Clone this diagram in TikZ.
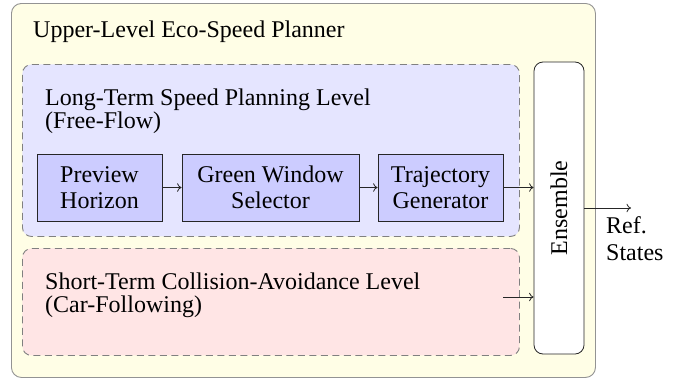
\documentclass[tikz,border=0pt]{standalone}
\usepackage{fontspec}
\setmainfont{Liberation Serif}
\newfontfamily\diagramfont{Liberation Serif}
\usetikzlibrary{arrows.meta}
\begin{document}
\begin{tikzpicture}[x=1pt,y=-1pt,
  font=\diagramfont\fontsize{24}{26.5}\selectfont,
  outerbox/.style={draw=gray!85, fill=yellow!10, rounded corners=10pt, line width=0.9pt, inner sep=0, anchor=north west},
  levelbox/.style={draw=gray, dash pattern=on 7pt off 4.5pt, rounded corners=9pt, line width=0.9pt, inner sep=0, anchor=north west},
  stepbox/.style={draw=black!85, fill=blue!20, line width=0.8pt, align=center, inner sep=0, minimum height=67pt},
  ensbox/.style={draw=black!85, fill=white, rounded corners=9pt, line width=0.8pt, inner sep=0, minimum width=50pt, minimum height=292pt},
  label/.style={anchor=base west, align=left, inner sep=0},
  link/.style={-{To[length=4.5pt,width=8.5pt]}, line width=0.8pt, black!85}
]
\useasboundingbox (0,0) rectangle (684,380);

% planner frame
\node[outerbox, minimum width=584pt, minimum height=374pt] (planner) at (11,3) {};
\node[label] (plannerlabel) at (33,37) {Upper-Level Eco-Speed Planner};

% long-term level (anchor sits on the last line's baseline)
\node[levelbox, fill=blue!10, minimum width=497pt, minimum height=172pt] (longterm) at (22,64) {};
\node[label, font=\diagramfont\fontsize{24}{23}\selectfont] (longlabel) at (45,128) {Long-Term Speed Planning Level\\(Free-Flow)};

\node[stepbox, minimum width=125pt] (preview) at (99.5,187.5) {Preview\\Horizon};
\node[stepbox, minimum width=177pt] (green) at (270.5,187.5) {Green Window\\Selector};
\node[stepbox, minimum width=125pt] (traj) at (440.5,187.5) {Trajectory\\Generator};

% short-term level
\node[levelbox, fill=red!10, minimum width=497pt, minimum height=107pt] (shortterm) at (22,248) {};
\node[label, font=\diagramfont\fontsize{24}{23.5}\selectfont] (shortlabel) at (45,312.5) {Short-Term Collision-Avoidance Level\\(Car-Following)};

% ensemble
\node[ensbox] (ens) at (559,208) {};
\node[rotate=90, inner sep=0] (enslabel) at (ens.center) {Ensemble};

% connectors
\draw[link] (preview) -- (green);
\draw[link] (green) -- (traj);
\draw[link] (traj.east) -- (traj.east -| ens.west);
\coordinate (shortout) at (503,297);
\draw[link] (shortout) -- (shortout -| ens.west);
\coordinate (refout) at (631,208);
\draw[link] (ens.east) -- (refout);
\node[label, font=\diagramfont\fontsize{24}{27}\selectfont] (reflabel) at (606,260) {Ref.\\States};
\end{tikzpicture}
\end{document}
